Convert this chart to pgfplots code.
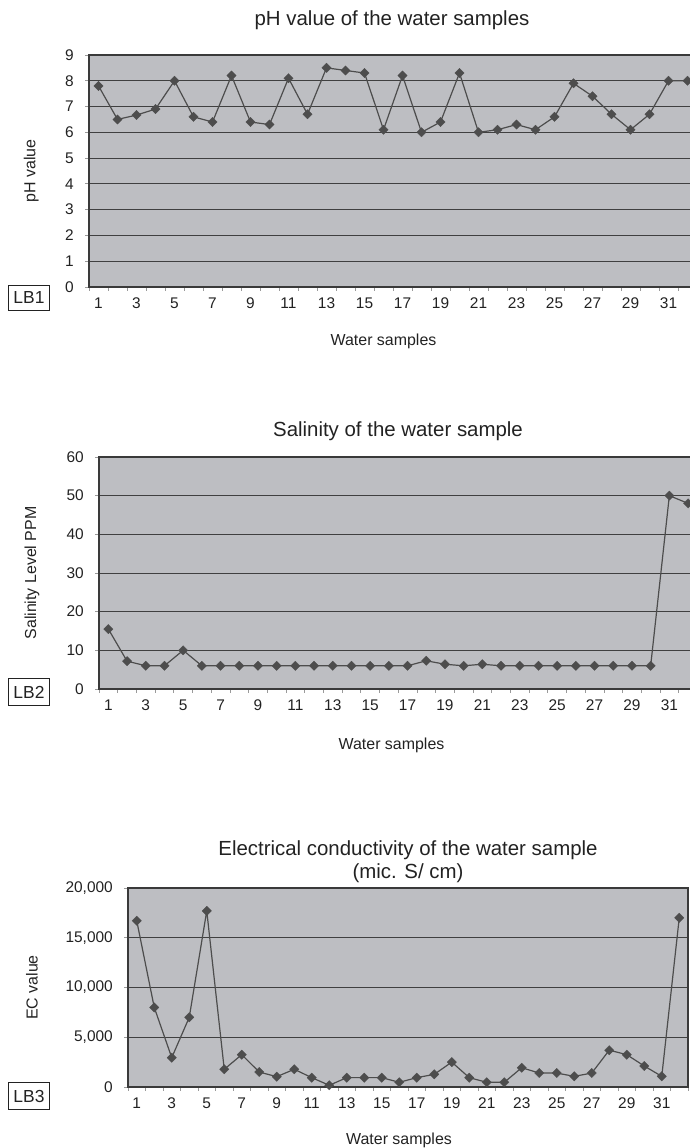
\documentclass[border=0pt]{standalone}
\usepackage{fontspec}
\setmainfont{Liberation Sans}
\usepackage{pgfplots}
\pgfplotsset{compat=1.18}
\usepackage{pgfplotstable}
\definecolor{bgc}{HTML}{BDBEC2}
\definecolor{gridc}{HTML}{404040}
\definecolor{framec}{HTML}{3A3A3A}
\definecolor{tickc}{HTML}{9A9A9A}
\definecolor{datac}{HTML}{4D4D4D}
\definecolor{txtc}{HTML}{222222}

\pgfplotstableread{
x y
1 7.8
2 6.5
3 6.67
4 6.9
5 8.0
6 6.6
7 6.4
8 8.2
9 6.4
10 6.3
11 8.1
12 6.7
13 8.5
14 8.4
15 8.3
16 6.1
17 8.2
18 6.0
19 6.4
20 8.3
21 6.0
22 6.1
23 6.3
24 6.1
25 6.6
26 7.9
27 7.4
28 6.7
29 6.1
30 6.7
31 8.0
32 8.0
}\phdata

\pgfplotstableread{
x y
1 15.5
2 7.2
3 6
4 6
5 10
6 6
7 6
8 6
9 6
10 6
11 6
12 6
13 6
14 6
15 6
16 6
17 6
18 7.3
19 6.4
20 6
21 6.4
22 6
23 6
24 6
25 6
26 6
27 6
28 6
29 6
30 6
31 50
32 48
}\saldata

\pgfplotstableread{
x y
1 16700
2 8000
3 2950
4 7000
5 17700
6 1780
7 3250
8 1500
9 1040
10 1780
11 940
12 170
13 940
14 940
15 940
16 470
17 940
18 1270
19 2500
20 940
21 470
22 470
23 1940
24 1400
25 1400
26 1070
27 1400
28 3700
29 3250
30 2110
31 1070
32 17000
}\ecdata

\pgfplotsset{
  myax/.style={
    scale only axis, anchor=south west,
    axis background/.style={fill=bgc},
    axis line style={draw=framec, line width=1.1bp},
    ymajorgrids, grid style={draw=gridc, line width=0.9bp},
    xmin=0.5, xmax=32.5,
    xtick={0.5,1.5,...,32.5}, xticklabels={},
    extra x ticks={1,3,...,31},
    extra x tick style={major tick length=0pt, grid=none},
    tick align=outside, tick pos=left,
    major tick length=4bp,
    tick style={draw=tickc, line width=0.8bp},
    tick label style={font=\fontsize{15.5}{18}\selectfont, text=txtc, /pgf/number format/assume math mode=true, inner sep=0pt},
    yticklabel style={anchor=east, xshift=-11bp},
    xticklabel style={anchor=north, yshift=-10.5bp},
    label style={font=\fontsize{16}{19}\selectfont, text=txtc},
    xlabel={Water samples},
  },
  mydata/.style={draw=datac, line width=1.2bp, mark=square*, mark size=3.3bp,
    mark options={rotate=45, fill=datac, draw=datac, line width=0.3bp}},
}

\begin{document}
\begin{tikzpicture}[x=1bp,y=1bp]
\useasboundingbox (0,0) rectangle (690,1148);
\clip (0,0) rectangle (690,1148);

% ---- Plot 1: pH ----
\begin{axis}[myax,
  at={(89bp,861bp)}, width=608bp, height=232bp,
  ymin=0, ymax=9, ytick={0,1,...,9},
  ylabel={pH value},
  ylabel style={at={(axis description cs:-0.095,0.5)}, anchor=center},
  xlabel style={at={(axis description cs:0.5,0)}, anchor=base, yshift=-59bp, xshift=-9.5bp},
]
\addplot[mydata] table[x=x,y=y] {\phdata};
\end{axis}

% ---- Plot 2: Salinity ----
\begin{axis}[myax,
  at={(99bp,459bp)}, width=598.4bp, height=232bp,
  ymin=0, ymax=60, ytick={0,10,...,60},
  ylabel={Salinity Level PPM},
  ylabel style={at={(axis description cs:-0.112,0.5)}, anchor=center},
  xlabel style={at={(axis description cs:0.5,0)}, anchor=base, yshift=-61bp, xshift=-6.7bp},
]
\addplot[mydata] table[x=x,y=y] {\saldata};
\end{axis}

% ---- Plot 3: EC ----
\begin{axis}[myax,
  at={(128bp,61bp)}, width=560bp, height=199bp,
  ymin=0, ymax=20000, ytick={0,5000,10000,15000,20000},
  scaled y ticks=false,
  yticklabel style={/pgf/number format/.cd, fixed, 1000 sep={,}},
  ylabel={EC value},
  ylabel style={at={(axis description cs:-0.1714,0.5)}, anchor=center},
  xlabel style={at={(axis description cs:0.5,0)}, anchor=base, yshift=-58bp, xshift=-9bp},
]
\addplot[mydata] table[x=x,y=y] {\ecdata};
\end{axis}

% ---- titles ----
\node[anchor=base, text=txtc, font=\fontsize{20.5}{24}\selectfont] at (392,1122) {pH value of the water samples};
\node[anchor=base, text=txtc, font=\fontsize{20.5}{24}\selectfont] at (398,711) {Salinity of the water sample};
\node[anchor=base, text=txtc, font=\fontsize{20.5}{24}\selectfont] at (408,292) {Electrical conductivity of the water sample};
\node[anchor=base, text=txtc, font=\fontsize{20.5}{24}\selectfont] at (408,269) {(mic. S/ cm)};

% ---- LB boxes ----
\node[draw=txtc, line width=0.9bp, minimum width=41bp, minimum height=25bp, inner sep=0pt, text=txtc, font=\fontsize{17.5}{20}\selectfont] at (29,850) {LB1};
\node[draw=txtc, line width=0.9bp, minimum width=41bp, minimum height=27bp, inner sep=0pt, text=txtc, font=\fontsize{17.5}{20}\selectfont] at (29,456) {LB2};
\node[draw=txtc, line width=0.9bp, minimum width=41bp, minimum height=27bp, inner sep=0pt, text=txtc, font=\fontsize{17.5}{20}\selectfont] at (29,52) {LB3};
\end{tikzpicture}
\end{document}
